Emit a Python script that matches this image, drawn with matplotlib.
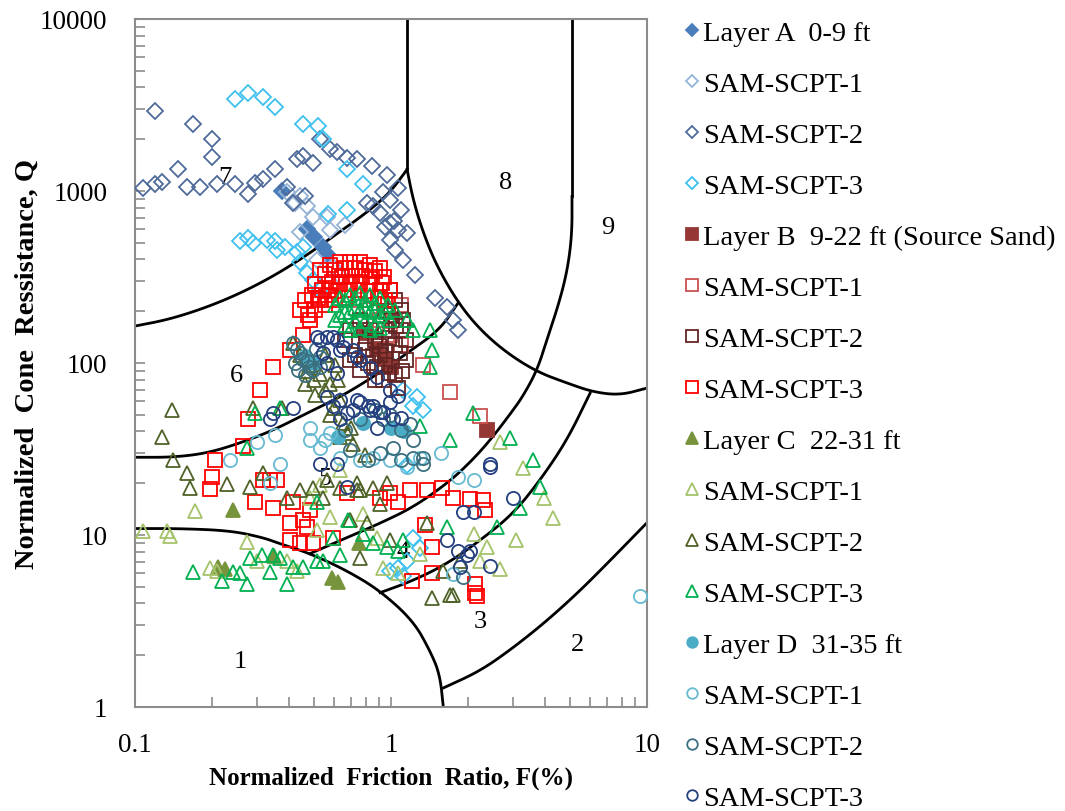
import numpy as np
import matplotlib
matplotlib.use("Agg")
import matplotlib.pyplot as plt
from matplotlib.ticker import LogLocator, NullFormatter, FixedLocator, FixedFormatter

plt.rcParams["font.family"] = ["Liberation Serif", "DejaVu Serif"]

# ---- Robertson zone boundaries (F %, Q) ----
z76_f = [0.1, 0.133, 0.179, 0.241, 0.328, 0.442, 0.593, 0.805, 0.99, 1.155]
z76_q = [164, 178, 204, 243, 305, 399, 543, 750, 979, 1334]

z65_f = [0.1, 0.141, 0.191, 0.257, 0.346, 0.470, 0.632, 0.851, 1.155, 1.55, 1.83]
z65_q = [28.3, 28.3, 29.9, 34.2, 40.6, 51.1, 63.4, 82.8, 114, 156, 224]

z8_f = [1.155, 1.219, 1.334, 1.513, 1.828, 2.228, 2.84, 3.72, 4.87, 6.15, 7.85, 10]
z8_q = [1334, 891, 573, 363, 224, 156, 114, 88.8, 76.4, 67.8, 65, 71.5]
z8_top = [1.155, 10000]

z54_f = [0.483, 0.673, 0.906, 1.22, 1.66, 2.04, 2.44, 2.92, 3.28, 3.72, 4.06, 4.57, 4.91, 5.09, 5.09]
z54_q = [7.8, 9.66, 11.7, 14.5, 20, 26.5, 35.6, 50.5, 64.3, 91, 136, 233, 363, 573, 929]
z9_top = [5.09, 10000]

z43_f = [0.906, 1.22, 1.66, 2.23, 3.0, 3.82, 4.87, 5.99]
z43_q = [4.62, 5.43, 6.82, 9.3, 13.3, 20.8, 35.6, 66.8]

z32_f = [1.60, 2.23, 3.0, 4.06, 5.47, 7.36, 10]
z32_q = [1.29, 1.62, 2.21, 3.17, 4.74, 7.39, 11.8]

z1_f = [0.1, 0.150, 0.235, 0.316, 0.368, 0.483, 0.673, 0.906, 1.22, 1.42, 1.55, 1.60]
z1_q = [10.9, 10.9, 10.6, 9.66, 8.9, 7.8, 6.2, 4.74, 3.17, 2.12, 1.55, 1.0]

zone_lbl = ["1", "2", "3", "4", "5", "6", "7", "8", "9"]
zone_f = [0.257, 5.33, 2.23, 1.11, 0.552, 0.25, 0.225, 2.79, 7.05]
zone_q = [1.85, 2.33, 3.17, 8.1, 21.4, 85, 1200, 1122, 621]

# ---- Layer A (diamonds) ----
a_f = [0.376, 0.47, 0.50, 0.54, 0.56]
a_q = [1000, 600, 540, 470, 430]
a1_f = [0.392, 0.422, 0.441, 0.47, 0.496, 0.56, 0.441, 0.515, 0.593, 0.632, 0.578, 0.661]
a1_q = [990, 850, 930, 815, 710, 710, 575, 399, 360, 320, 597, 635]
a2_f = [0.107, 0.120, 0.128, 0.120, 0.147, 0.160, 0.169, 0.180, 0.200, 0.200,
        0.209, 0.246, 0.276, 0.294, 0.316, 0.352, 0.392, 0.414, 0.430, 0.454,
        0.461, 0.496, 0.528, 0.578, 0.615, 0.673, 0.735, 0.844, 0.967, 1.06,
        0.805, 0.853, 0.907, 0.931, 0.993, 0.993, 1.06, 1.09, 1.15, 0.993,
        1.11, 1.24, 1.49, 1.66, 1.75, 1.82, 1.03, 0.949, 1.04]
a2_q = [1040, 1091, 1130, 2920, 1334, 1060, 2450, 1060, 1996, 1580,
        1091, 1091, 955, 1110, 1167, 1334, 1060, 850, 1527, 1600,
        930, 1460, 1996, 1746, 1680, 1560, 1527, 1390, 1240, 1040,
        850, 815, 740, 990, 891, 650, 597, 780, 570, 521,
        399, 325, 240, 212, 178, 156, 670, 615, 456]
a3_f = [0.246, 0.276, 0.316, 0.352, 0.454, 0.519, 0.542, 0.673, 0.78, 0.673,
        0.567, 0.257, 0.276, 0.289, 0.328, 0.352, 0.385, 0.43, 0.441, 0.47,
        0.496, 0.528, 0.36, 0.454, 0.907, 0.967, 1.11, 1.26, 1.22, 1.33,
        1.15, 0.993, 1.06, 1.15, 1.22, 1.30, 1.11]
a3_q = [3420, 3730, 3500, 3070, 2440, 2380, 1996, 1334, 1091, 780,
        730, 510, 535, 500, 521, 510, 475, 440, 385, 335,
        305, 267, 456, 475, 119, 104, 70, 63, 56, 53,
        25.5, 6.2, 6.4, 7.1, 9.6, 8.4, 5.8]

# ---- Layer B (squares) ----
b_f = [2.38, 0.80, 0.88, 0.95, 1.0]
b_q = [41, 150, 120, 105, 95]
b1_f = [1.33, 1.70, 2.23, 0.757, 0.829, 1.04, 1.09, 0.993, 1.09, 0.907]
b1_q = [97, 68, 49, 233, 204, 178, 218, 146, 128, 178]
b2_f = [0.993, 1.04, 1.09, 1.01, 0.949, 0.867, 0.792, 0.724, 0.907, 1.04,
        1.09, 0.661, 0.692, 0.757, 0.829, 0.949, 1.04, 0.867, 0.757, 1.14,
        1.06, 1.14, 1.11, 0.692, 0.81,
        0.95, 1.0, 1.05, 0.98, 0.90, 0.85, 0.95, 1.08, 0.80, 0.88,
        0.98, 1.10, 0.93]
b2_q = [267, 233, 204, 178, 156, 136, 119, 111, 111, 127,
        156, 136, 156, 178, 156, 97, 85, 80, 91, 104,
        72, 136, 178, 104, 100,
        200, 190, 165, 140, 125, 110, 118, 115, 130, 95,
        88, 90, 80]
b3_f = [0.505, 0.552, 0.604, 0.661, 0.724, 0.792, 0.867, 0.94, 0.528, 0.578,
        0.632, 0.692, 0.757, 0.829, 0.907, 0.505, 0.552, 0.604, 0.661, 0.483,
        0.461, 0.949, 0.441,
        0.528, 0.578, 0.632, 0.692, 0.757, 0.829, 0.907, 0.492, 0.537, 0.589,
        0.644, 0.705, 0.771, 0.844, 0.924, 0.993, 0.474, 0.519, 0.567, 0.621,
        0.679, 0.744, 0.814, 0.89, 0.975,
        0.454, 0.403, 0.346, 0.308, 0.276, 0.264, 0.205, 0.200, 0.196, 0.316,
        0.337, 0.360, 0.294, 0.346, 0.414, 0.483, 0.454, 0.47, 0.403, 0.403,
        0.441, 0.496, 0.593, 0.673, 0.993, 1.06, 1.19, 1.38, 1.58, 1.75,
        2.04, 2.28, 2.33, 1.36, 1.45, 1.45, 1.21, 2.13, 2.17, 2.13, 0.907]
b3_q = [287, 327, 349, 357, 357, 349, 341, 315, 233, 267,
        287, 287, 295, 287, 267, 204, 218, 233, 240, 178,
        233, 233, 204,
        349, 372, 388, 388, 385, 372, 357, 250, 267, 297,
        315, 321, 321, 315, 293, 267, 191, 240, 247, 261,
        267, 267, 261, 240, 218,
        146, 119, 95, 70, 47, 33, 27.2, 21.6, 18.6, 20.8,
        20.8, 20.8, 15.5, 14.4, 15.5, 13.9, 12.2, 11.2, 11.8, 9.3,
        9.0, 9.0, 9.6, 17.6, 17.6, 15.6, 18.2, 18.2, 18.8, 16.4,
        16.2, 15.9, 13.9, 11.4, 8.5, 6.0, 5.4, 5.2, 4.4, 4.6, 16.5]

# ---- Layer C (triangles) ----
c_f = [0.241, 0.21, 0.225, 0.59, 0.62, 0.35, 0.75]
c_q = [14.0, 6.5, 6.3, 5.6, 5.3, 7.5, 9.0]
c1_f = [0.107, 0.133, 0.137, 0.172, 0.196, 0.209, 0.274, 0.30, 0.392, 0.43,
        0.483, 0.515, 0.578, 0.692, 0.78, 0.88, 0.931, 1.06, 1.30, 2.67,
        3.28, 3.97, 4.29, 3.07, 2.67, 2.36, 2.10, 2.23, 0.632, 0.528]
c1_q = [10.6, 10.6, 9.8, 13.8, 6.4, 6.2, 9.1, 7.1, 7.1, 6.2,
        16.5, 10.7, 12.8, 12.2, 13.3, 9.6, 6.4, 6.0, 7.8, 34.6,
        24.5, 16.3, 12.6, 9.3, 6.3, 8.5, 10.1, 7.1, 23.8, 19.6]
c2_f = [0.14, 0.128, 0.141, 0.16, 0.164, 0.289, 0.376, 0.414, 0.441, 0.483,
        0.528, 0.578, 0.461, 0.505, 0.552, 0.604, 0.632, 0.281, 0.229, 0.316,
        0.392, 0.441, 0.496, 0.56, 0.632, 0.735, 0.853, 0.673, 0.71, 0.632,
        0.542, 0.757, 0.907, 0.692, 0.805, 0.993, 1.38, 1.45, 1.75, 1.60,
        0.757, 1.70, 1.86, 0.792, 0.735, 0.967,
        0.50, 0.55, 0.60, 0.65, 0.58, 0.47, 0.62, 0.70]
c2_q = [53, 37, 27.2, 23, 18.8, 55, 55, 130, 111, 97,
        86, 75, 75, 65, 111, 97, 61, 19, 19.8, 23,
        16.5, 18.2, 18.8, 20.8, 18.8, 18.2, 18.8, 39, 34, 37,
        16.5, 18.2, 15.2, 12.2, 11.7, 9.3, 11.7, 4.3, 4.5, 6.2,
        7.3, 4.5, 7.1, 29, 20, 20,
        80, 70, 55, 45, 50, 90, 80, 42]
c3_f = [0.604, 0.661, 0.724, 0.792, 0.867, 0.632, 0.692, 0.757, 0.829, 0.907,
        0.661, 0.724, 0.792, 0.867,
        0.632, 0.692, 0.757, 0.829, 0.907, 0.975, 0.604, 0.661, 0.724, 0.792,
        0.867, 0.949, 0.692, 0.757, 0.829, 0.907, 0.993, 1.04,
        1.15, 1.22, 1.42, 1.45, 1.42, 1.30,
        1.70, 2.09, 2.92, 3.57, 3.82, 3.19, 2.59, 1.66, 0.368, 0.294,
        0.274, 0.168, 0.219, 0.241, 0.257, 0.274, 0.337, 0.392, 0.414, 0.281,
        0.313, 0.346, 0.368, 0.454, 0.515, 0.593, 0.681, 0.78, 0.853, 0.967,
        1.06, 1.11, 0.515, 0.632, 0.542]
c3_q = [218, 233, 240, 233, 223, 190, 199, 204, 199, 190,
        167, 175, 175, 167,
        240, 250, 256, 250, 240, 218, 178, 198, 210, 210,
        204, 198, 156, 160, 156, 160, 178, 204,
        178, 156, 156, 119, 95, 43,
        35.6, 51, 36.5, 27.2, 19, 14.4, 11.1, 11.1, 55, 51,
        32, 6.1, 5.4, 6.1, 6.0, 5.2, 6.1, 5.2, 6.5, 7.3,
        7.7, 7.7, 7.3, 6.5, 7.1, 9.6, 12.2, 10.2, 9.0, 8.5,
        8.1, 9.3, 15.5, 7.7, 7.1]

# ---- Layer D (circles) ----
d_f = [0.46, 0.50, 1.12, 1.0, 0.78, 0.62]
d_q = [110, 100, 40, 42, 45, 37]
d1_f = [9.37, 0.528, 0.483, 0.578, 1.56, 1.82, 0.30, 0.368, 0.483, 0.552,
        0.632, 0.757, 0.853, 0.993, 1.15, 1.30, 0.235, 2.10, 1.75, 0.337, 0.352]
d1_q = [4.4, 32, 35.6, 39, 30, 21.7, 34.5, 26, 42, 35.6,
        28, 27.2, 28, 27.2, 24.8, 28, 27.2, 20.8, 5.9, 20, 38]
d2_f = [0.414, 0.441, 0.47, 0.496, 0.433, 0.528, 0.907, 1.02, 1.09, 1.22,
        1.33, 0.81, 0.692, 0.931, 1.09, 1.22, 1.33, 1.91, 0.757, 0.867,
        0.993, 0.661, 1.19,
        0.43, 0.45, 0.48, 0.42, 0.46, 0.51, 0.53]
d2_q = [130, 115, 102, 91, 91, 108, 30, 32, 27.2, 28,
        26, 27.2, 31, 47, 41, 35.6, 28, 5.7, 47, 53,
        50, 41, 44,
        120, 105, 95, 100, 85, 120, 95]
d3_f = [0.515, 0.56, 0.615, 0.65, 0.735, 0.56, 0.615, 0.632, 0.735, 0.853,
        0.907, 0.993, 1.09, 0.346, 0.528, 0.615, 0.673, 2.10, 1.82, 1.98,
        1.86, 0.71, 0.829, 0.931, 1.02, 0.88, 2.44, 2.44, 1.91, 3.0,
        2.04, 2.44, 1.66, 0.528, 0.593, 0.632, 0.757, 0.71, 0.829, 0.88,
        0.993, 1.06, 0.757, 0.81, 0.673, 0.56, 0.593, 0.632, 0.337, 0.414, 0.542]
d3_q = [141, 141, 136, 124, 108, 100, 88, 61, 61, 56,
        52, 59, 48, 51, 26, 26, 19, 13.6, 8.1, 7.7,
        6.5, 53, 53, 52, 47, 42, 26, 25, 13.6, 16.5,
        8.1, 6.6, 9.3, 136, 141, 119, 104, 119, 94, 83,
        70, 64, 59, 56, 51, 63, 56, 47, 47, 55, 115]


def smooth(f, q, n=3):
    # chaikin corner cutting in log space, ends kept
    p = np.column_stack([np.log10(f), np.log10(q)])
    for _ in range(n):
        a, b = p[:-1], p[1:]
        mid = np.empty((2 * len(a), 2))
        mid[0::2] = 0.75 * a + 0.25 * b
        mid[1::2] = 0.25 * a + 0.75 * b
        p = np.vstack([p[:1], mid, p[-1:]])
    return 10 ** p[:, 0], 10 ** p[:, 1]


fig = plt.figure(figsize=(10.65, 8.12), dpi=100)
ax = fig.add_axes([0.1268, 0.1281, 0.4808, 0.8473])
ax.set_xscale("log")
ax.set_yscale("log")
ax.set_xlim(0.1, 10)
ax.set_ylim(1, 10000)

lw = 2.0
for bf, bq in [(z76_f, z76_q), (z65_f, z65_q), (z8_f, z8_q), (z54_f, z54_q),
               (z43_f, z43_q), (z32_f, z32_q), (z1_f, z1_q)]:
    sf, sq = smooth(bf, bq)
    ax.plot(sf, sq, color="black", lw=lw, zorder=1)
ax.plot([z8_top[0], z8_top[0]], [z76_q[-1], z8_top[1]], color="black", lw=lw, zorder=1)
ax.plot([z9_top[0], z9_top[0]], [z54_q[-1], z9_top[1]], color="black", lw=lw, zorder=1)

for t, xf, yq in zip(zone_lbl, zone_f, zone_q):
    ax.text(xf, yq, t, fontsize=19, ha="center", va="center", zorder=1)

series = [
    (a_f, a_q, "D", "#4A7EBB", True, "Layer A  0-9 ft"),
    (a1_f, a1_q, "D", "#95B3D7", False, "SAM-SCPT-1"),
    (a2_f, a2_q, "D", "#4E6A98", False, "SAM-SCPT-2"),
    (a3_f, a3_q, "D", "#3EC1EE", False, "SAM-SCPT-3"),
    (b_f, b_q, "s", "#953735", True, "Layer B  9-22 ft (Source Sand)"),
    (b1_f, b1_q, "s", "#C85250", False, "SAM-SCPT-1"),
    (b2_f, b2_q, "s", "#632523", False, "SAM-SCPT-2"),
    (b3_f, b3_q, "s", "#FF0000", False, "SAM-SCPT-3"),
    (c_f, c_q, "^", "#77933C", True, "Layer C  22-31 ft"),
    (c1_f, c1_q, "^", "#A5C36A", False, "SAM-SCPT-1"),
    (c2_f, c2_q, "^", "#4F6228", False, "SAM-SCPT-2"),
    (c3_f, c3_q, "^", "#00B050", False, "SAM-SCPT-3"),
    (d_f, d_q, "o", "#4BACC6", True, "Layer D  31-35 ft"),
    (d1_f, d1_q, "o", "#66BAD2", False, "SAM-SCPT-1"),
    (d2_f, d2_q, "o", "#3A6F80", False, "SAM-SCPT-2"),
    (d3_f, d3_q, "o", "#243F7F", False, "SAM-SCPT-3"),
]
sizes = {"D": 8, "s": 10, "^": 10, "o": 9.5}
handles = []
for f, q, m, c, filled, lab in series:
    h, = ax.plot(f, q, ls="none", marker=m, ms=sizes[m],
                 mfc=c if filled else "none", mec=c, mew=1.3,
                 label=lab, zorder=3)
    handles.append(h)

for s in ax.spines.values():
    s.set_color("#8C8C8C")
    s.set_linewidth(1.5)
ax.xaxis.set_major_locator(FixedLocator([0.1, 1, 10]))
ax.xaxis.set_major_formatter(FixedFormatter(["0.1", "1", "10"]))
ax.yaxis.set_major_locator(FixedLocator([1, 10, 100, 1000, 10000]))
ax.yaxis.set_major_formatter(FixedFormatter(["1", "10", "100", "1000", "10000"]))
ax.xaxis.set_minor_locator(LogLocator(base=10, subs=np.arange(2, 10)))
ax.yaxis.set_minor_locator(LogLocator(base=10, subs=np.arange(2, 10)))
ax.xaxis.set_minor_formatter(NullFormatter())
ax.yaxis.set_minor_formatter(NullFormatter())
ax.tick_params(which="both", direction="in", color="#8C8C8C", width=1.2, length=7,
               top=False, right=False)
ax.tick_params(axis="x", which="major", labelsize=19.5, pad=18)
ax.tick_params(axis="y", which="major", labelsize=19.5, pad=20)

ax.set_xlabel("Normalized  Friction  Ratio, F(%)", fontsize=18, fontweight="bold", labelpad=6)
ax.set_ylabel("Normalized  Cone  Ressistance, Q", fontsize=20.5, fontweight="bold")
ax.yaxis.set_label_coords(-0.187, 0.5)

fig.legend(handles=handles, loc="upper left", bbox_to_anchor=(0.6326, 0.988),
           frameon=False, fontsize=20.5, handlelength=0.5, handletextpad=0.13,
           labelspacing=0.88, markerscale=0.8, borderaxespad=0)

fig.savefig("out.png", dpi=100)
